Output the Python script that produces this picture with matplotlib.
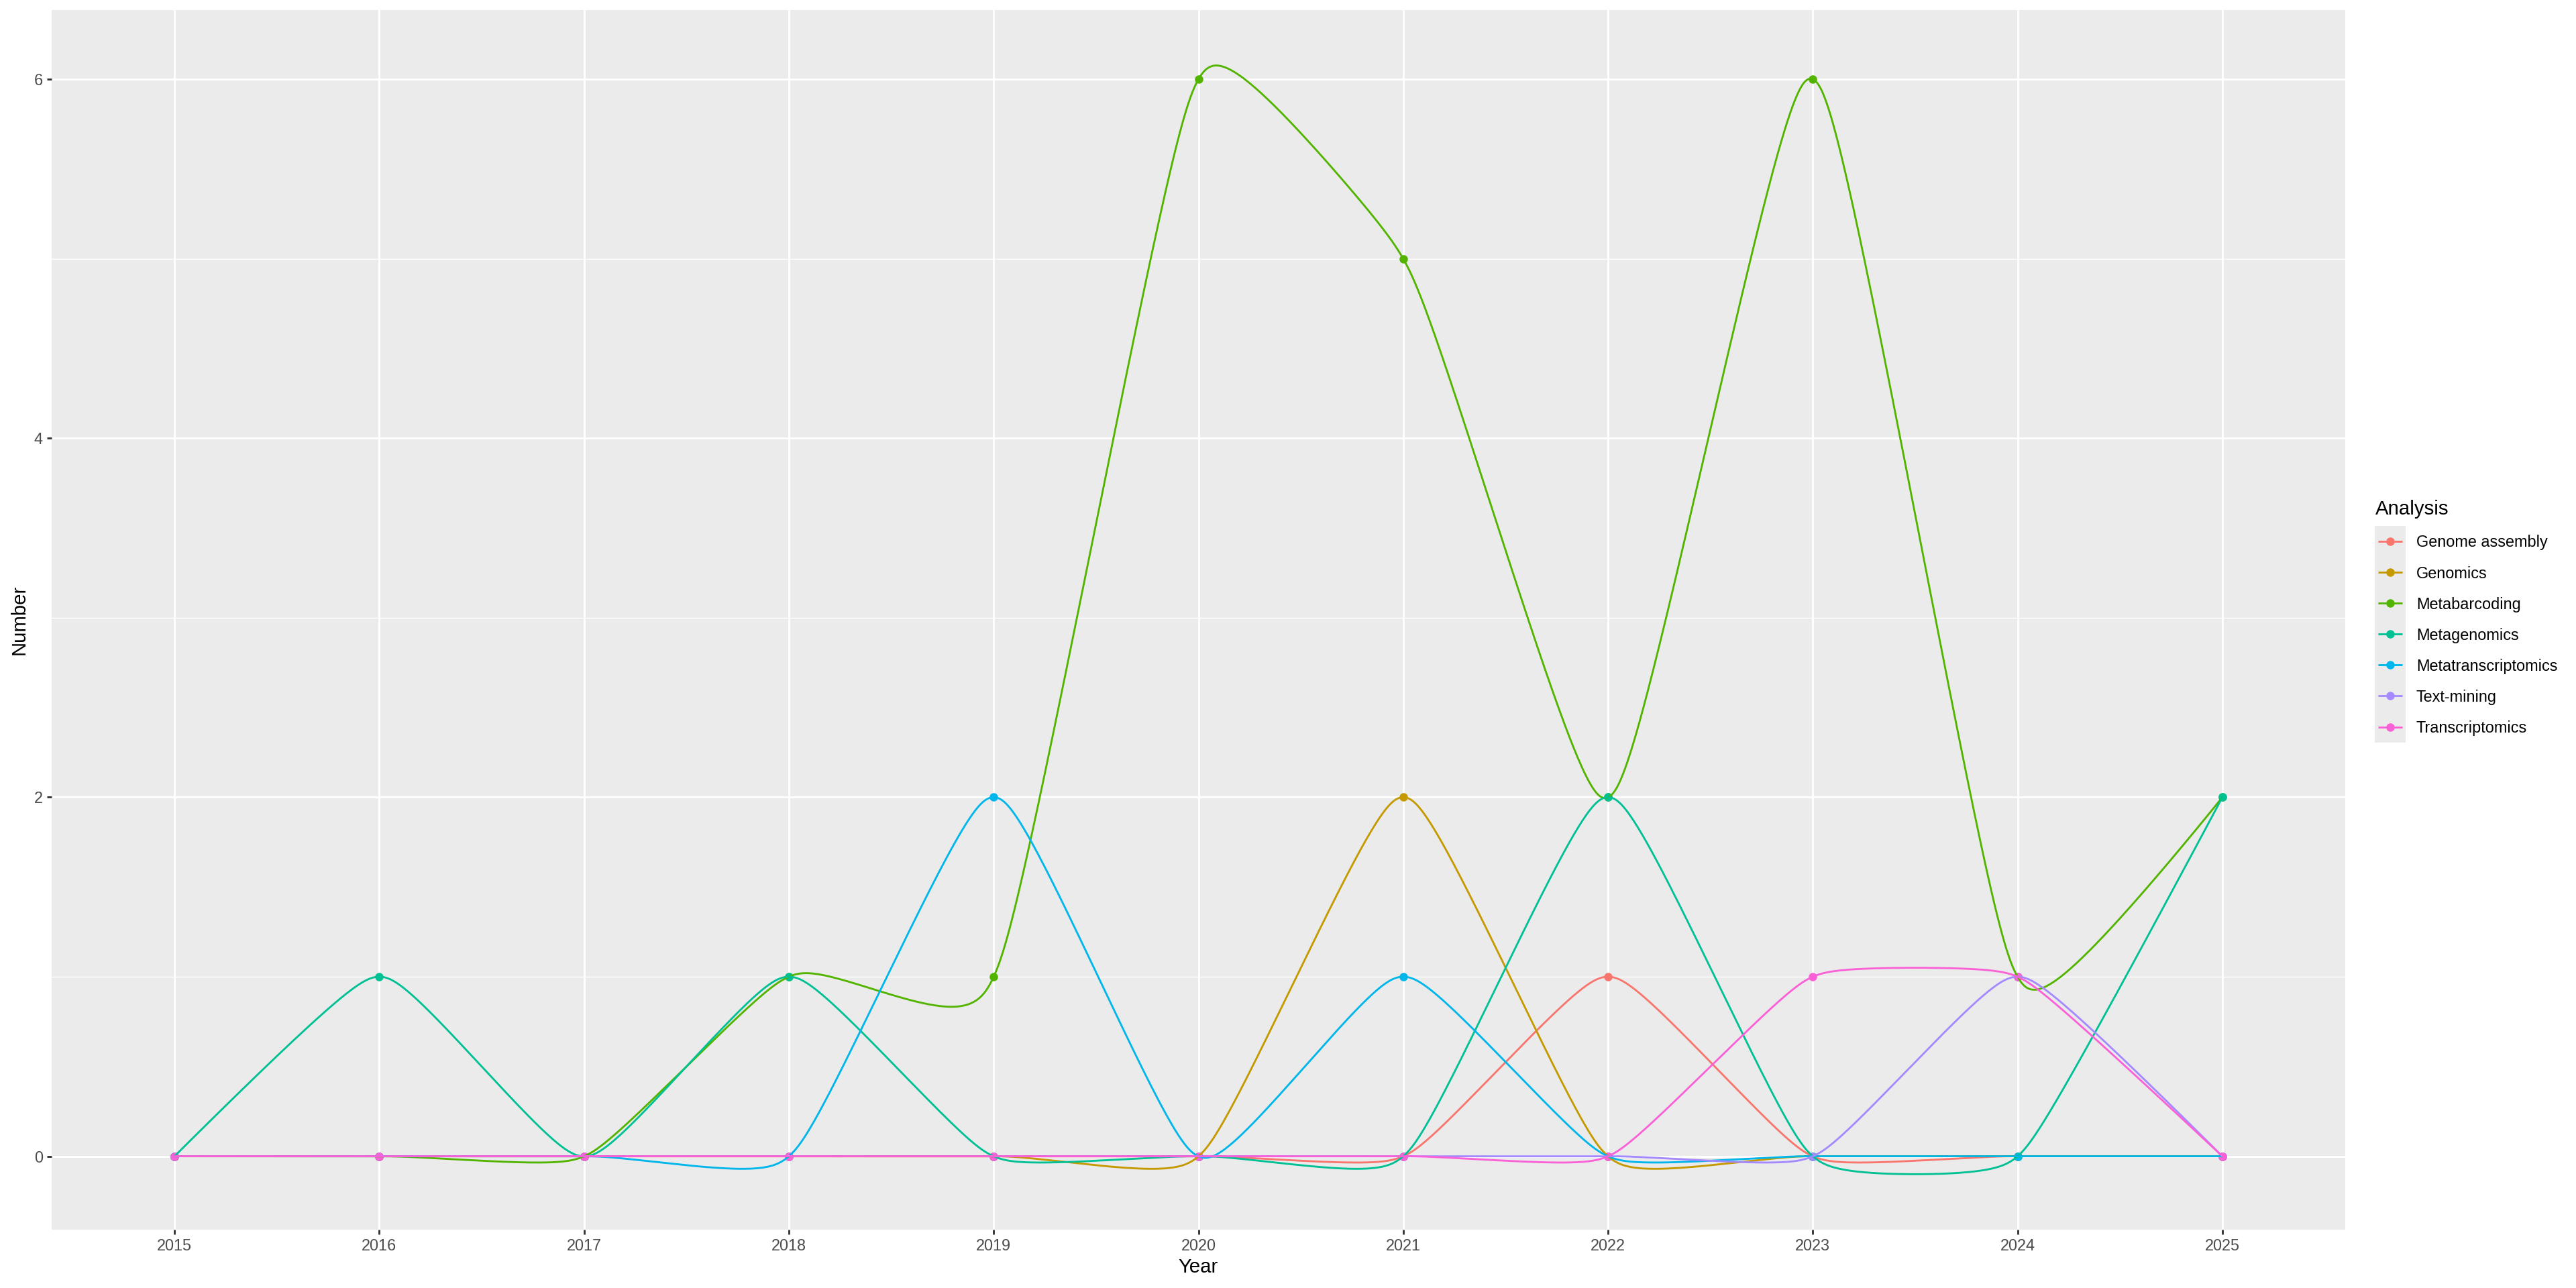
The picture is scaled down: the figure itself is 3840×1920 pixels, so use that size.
import numpy as np
import matplotlib
matplotlib.use("Agg")
import matplotlib.pyplot as plt
from matplotlib.patches import Rectangle
from matplotlib.lines import Line2D

# ---------------- data ----------------
years = [2015, 2016, 2017, 2018, 2019, 2020, 2021, 2022, 2023, 2024, 2025]
analyses = ["Genome assembly", "Genomics", "Metabarcoding", "Metagenomics",
            "Metatranscriptomics", "Text-mining", "Transcriptomics"]
genome_assembly     = [0, 0, 0, 0, 0, 0, 0, 1, 0, 0, 0]
genomics            = [0, 0, 0, 0, 0, 0, 2, 0, 0, 0, 0]
metabarcoding       = [0, 0, 0, 1, 1, 6, 5, 2, 6, 1, 2]
metagenomics        = [0, 1, 0, 1, 0, 0, 0, 2, 0, 0, 2]
metatranscriptomics = [0, 0, 0, 0, 2, 0, 1, 0, 0, 0, 0]
text_mining         = [0, 0, 0, 0, 0, 0, 0, 0, 0, 1, 0]
transcriptomics     = [0, 0, 0, 0, 0, 0, 0, 0, 1, 1, 0]
series = [genome_assembly, genomics, metabarcoding, metagenomics,
          metatranscriptomics, text_mining, transcriptomics]
colors = ["#F8766D", "#C49A00", "#53B400", "#00C094", "#00B6EB", "#A58AFF", "#FB61D7"]

SPLINE_SHAPE = -0.25

# ---------------- X-spline (as in R's grDevices::xspline, open, repEnds) -------------
def f_blend(num, den):
    p = 2.0 * den * den
    u = num / den
    return u ** 3 * (10 - p + (2 * p - 15) * u + (6 - p) * u * u)

def g_blend(u, q):
    return u * (q + u * (2 * q + u * (10 - 12 * q - 2 + u * (2 * 2 + 14 * q - 15 + u * (6 - 5 * q - 2)))))

def h_blend(u, q):
    u2 = u * u
    return u * (q + u * (2 * q + u2 * (-2 * q - u * q)))

def blend(t, s1, s2):
    k = 0.0
    if s1 < 0:
        q = -s1
        A0 = h_blend(-t, q)
        A2 = g_blend(t, q)
    else:
        Tk = k + 1 + s1
        A0 = f_blend(t + k + 1 - Tk, k - Tk) if (t + k + 1 < Tk) else 0.0
        Tk = k + 1 - s1
        A2 = f_blend(t + k + 1 - Tk, k + 2 - Tk)
    if s2 < 0:
        q = -s2
        A1 = g_blend(1 - t, q)
        A3 = h_blend(t - 1, q)
    else:
        Tk = k + 2 + s2
        A1 = f_blend(t + k + 1 - Tk, k + 1 - Tk)
        Tk = k + 2 - s2
        A3 = f_blend(t + k + 1 - Tk, k + 3 - Tk) if (t + k + 1 > Tk) else 0.0
    return A0, A1, A2, A3

def xspline(xs, ys, shape, steps=200):
    n = len(xs)
    px = [xs[0]] + list(xs) + [xs[-1]]
    py = [ys[0]] + list(ys) + [ys[-1]]
    ps = [0.0, 0.0] + [shape] * (n - 2) + [0.0, 0.0]
    ox, oy = [], []
    for i in range(1, n):
        idx = (i - 1, i, i + 1, i + 2)
        s1, s2 = ps[i], ps[i + 1]
        for t in np.arange(steps) / steps:
            A = blend(t, s1, s2)
            w = sum(A)
            ox.append(sum(a * px[j] for a, j in zip(A, idx)) / w)
            oy.append(sum(a * py[j] for a, j in zip(A, idx)) / w)
    ox.append(xs[-1]); oy.append(ys[-1])
    return np.array(ox), np.array(oy)

# ---------------- figure ----------------
W, H, DPI = 3840, 1920, 192
plt.rcParams["font.family"] = ["Liberation Sans", "DejaVu Sans"]
fig = plt.figure(figsize=(W / DPI, H / DPI), dpi=DPI)
fig.patch.set_facecolor("white")

pl, pr, pt, pb = 77, 3496, 15, 1833
ax = fig.add_axes([pl / W, 1 - pb / H, (pr - pl) / W, (pb - pt) / H])
ax.set_facecolor("#EBEBEB")
for sp in ax.spines.values():
    sp.set_visible(False)

xpos = np.arange(len(years))
curves = [xspline(xpos, s, SPLINE_SHAPE) for s in series]

ymin = min(c[1].min() for c in curves)
ymax = max(c[1].max() for c in curves)
pad = 0.05 * (ymax - ymin)
ax.set_ylim(ymin - pad, ymax + pad)
ax.set_xlim(-0.6, len(years) - 1 + 0.6)

ax.set_xticks(xpos)
ax.set_xticklabels([str(y) for y in years])
ax.set_yticks([0, 2, 4, 6])
ax.set_yticks([1, 3, 5], minor=True)
ax.grid(which="major", color="white", linewidth=1.07)
ax.grid(which="minor", axis="y", color="white", linewidth=0.53)
ax.set_axisbelow(True)
ax.tick_params(which="major", length=2.75, width=1.07, color="#333333",
               pad=2.2, labelsize=8.8, labelcolor="#4D4D4D")
ax.tick_params(which="minor", length=0)

# points first, lines on top
for s, c in zip(series, colors):
    ax.plot(xpos, s, linestyle="none", marker="o", markersize=4.7,
            markeredgewidth=0, color=c, zorder=2)
for (cx, cy), c in zip(curves, colors):
    ax.plot(cx, cy, color=c, linewidth=1.07, zorder=3, solid_capstyle="butt")

# axis titles
fig.text((pl + pr) / 2 / W, 1 - 1897 / H, "Year", ha="center", va="baseline",
         fontsize=11, color="black")
fig.text(37 / W, 1 - ((pt + pb) / 2) / H, "Number", rotation=90,
         rotation_mode="anchor", ha="center", va="baseline", fontsize=11, color="black")

# legend (manual, ggplot style)
lax = fig.add_axes([0, 0, 1, 1])
lax.set_xlim(0, W)
lax.set_ylim(H, 0)
lax.axis("off")
key_left, key_w, key_h = 3540, 46.08, 46.08
key_top = 784
lax.text(3541, 767, "Analysis", fontsize=11, color="black", ha="left", va="baseline")
lax.add_patch(Rectangle((key_left, key_top), key_w, key_h * len(analyses),
                        facecolor="#EBEBEB", edgecolor="none"))
for i, (name, c) in enumerate(zip(analyses, colors)):
    cy = key_top + key_h * (i + 0.5)
    lax.add_line(Line2D([key_left + 0.1 * key_w, key_left + 0.9 * key_w], [cy, cy],
                        color=c, linewidth=1.07, solid_capstyle="butt"))
    lax.plot([key_left + key_w / 2], [cy], marker="o", markersize=4.7,
             markeredgewidth=0, color=c)
    lax.text(3602, cy + 8.4, name, fontsize=8.8, color="black", ha="left", va="baseline")

fig.savefig("out.png", dpi=DPI, facecolor="white")
